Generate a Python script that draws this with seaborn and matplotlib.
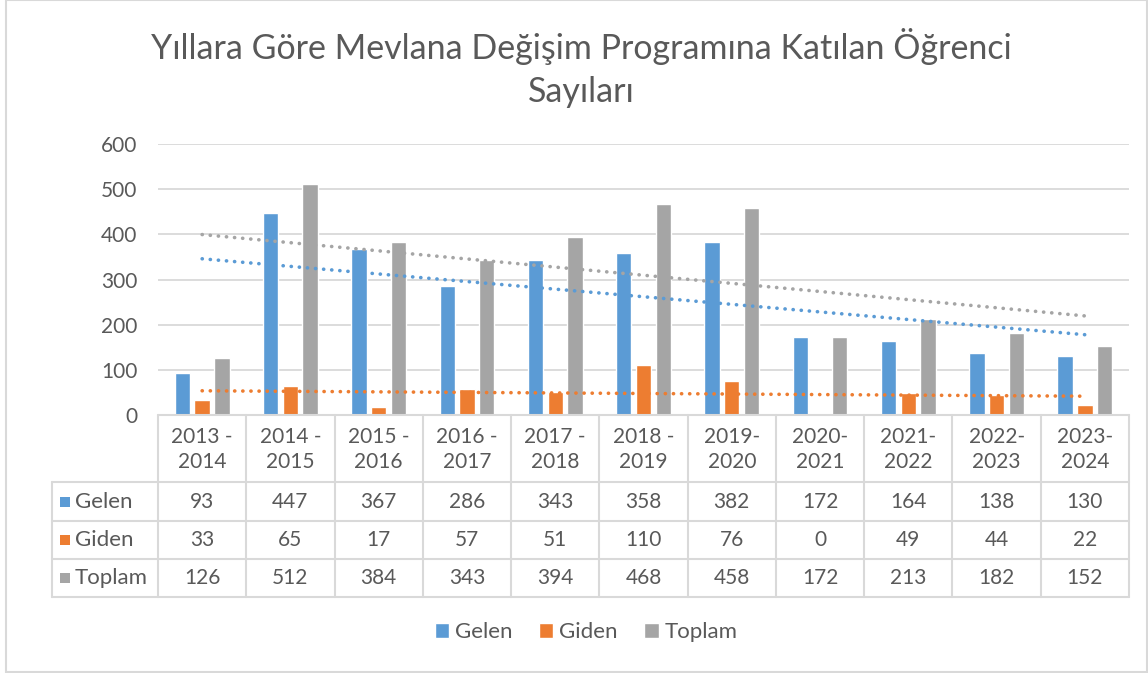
import numpy as np
import pandas as pd
import matplotlib
matplotlib.use("Agg")
import matplotlib.pyplot as plt
import matplotlib.transforms as mtrans
from matplotlib.patches import Rectangle
from matplotlib.lines import Line2D
import seaborn as sns

# ---------------- data ----------------
categories = ["2013 -\n2014", "2014 -\n2015", "2015 -\n2016", "2016 -\n2017",
              "2017 -\n2018", "2018 -\n2019", "2019-\n2020", "2020-\n2021",
              "2021-\n2022", "2022-\n2023", "2023-\n2024"]
gelen = [93, 447, 367, 286, 343, 358, 382, 172, 164, 138, 130]
giden = [33, 65, 17, 57, 51, 110, 76, 0, 49, 44, 22]
toplam = [126, 512, 384, 343, 394, 468, 458, 172, 213, 182, 152]
series_names = ["Gelen", "Giden", "Toplam"]
series_values = [gelen, giden, toplam]
colors = ["#5B9BD5", "#ED7D31", "#A5A5A5"]
title = "Yıllara Göre Mevlana Değişim Programına Katılan Öğrenci\nSayıları"
yticks = [0, 100, 200, 300, 400, 500, 600]

df = pd.DataFrame({
    "Yil": np.tile(categories, 3),
    "Seri": np.repeat(series_names, len(categories)),
    "Deger": np.concatenate(series_values),
})

# ---------------- figure ----------------
sns.set_theme(style="white")
plt.rcParams["font.family"] = ["Lato", "DejaVu Sans"]
TXT = "#595959"
GRID = "#D9D9D9"

W, H = 1148, 673
fig = plt.figure(figsize=(W / 100, H / 100), dpi=100)
fig.patch.set_facecolor("white")

def fx(x):
    return x / W

def fy(y):
    return 1 - y / H

ax_l, ax_r, ax_t, ax_b = 158, 1129, 144, 415
ax = fig.add_axes([fx(ax_l), fy(ax_b), fx(ax_r - ax_l), fy(ax_t) - fy(ax_b)])

sns.barplot(data=df, x="Yil", y="Deger", hue="Seri", palette=colors,
            order=categories, hue_order=series_names,
            width=0.67, gap=0.22, ax=ax, legend=True, saturation=1)

# trendlines (linear)
xs = np.arange(len(categories))
for vals, c in zip(series_values, colors):
    k, b = np.polyfit(xs + 1, vals, 1)
    xx = np.array([xs[0], xs[-1]])
    ax.plot(xx, k * (xx + 1) + b, color=c, lw=2.6,
            linestyle=(0, (0.05, 2.2)), dash_capstyle="round", zorder=4)

ax.set_xlim(-0.5, len(categories) - 0.5)
ax.set_ylim(0, 600)
ax.set_yticks(yticks)
ax.set_yticklabels([str(t) for t in yticks], color=TXT, fontsize=15)
ax.tick_params(axis="y", length=0, pad=15)
ax.set_xticks([])
ax.set_xlabel("")
ax.set_ylabel("")
for s in ax.spines.values():
    s.set_visible(False)
ax.grid(axis="y", color=GRID, lw=1.3)
ax.set_axisbelow(True)

# legend
sns.move_legend(ax, "center", bbox_to_anchor=((586 - ax_l) / (ax_r - ax_l), (ax_b - 632) / (ax_b - ax_t)),
                ncol=3, frameon=False, title=None, fontsize=16,
                handlelength=0.65, handleheight=0.65, handletextpad=0.25, columnspacing=1.2,
                labelcolor=TXT)

# ---------------- data table ----------------
tr = mtrans.blended_transform_factory(ax.transData, fig.transFigure)
ncat = len(categories)
row_y = [415, 482, 521, 559, 597]
lab_l = 52
line_kw = dict(color=GRID, lw=1.5, clip_on=False)

# horizontal lines
fig.add_artist(Line2D([-0.5, ncat - 0.5], [fy(row_y[0])] * 2, transform=tr, **line_kw))
for y in row_y[1:]:
    fig.add_artist(Line2D([fx(lab_l), fx(ax_r)], [fy(y)] * 2, transform=fig.transFigure, **line_kw))
# vertical lines
for i in range(ncat + 1):
    fig.add_artist(Line2D([i - 0.5, i - 0.5], [fy(row_y[0]), fy(row_y[-1])], transform=tr, **line_kw))
fig.add_artist(Line2D([fx(lab_l)] * 2, [fy(row_y[1]), fy(row_y[-1])], transform=fig.transFigure, **line_kw))

# header
for i, c in enumerate(categories):
    fig.text(i, fy((row_y[0] + row_y[1]) / 2 + 1), c, transform=tr, ha="center", va="center",
             fontsize=15, color=TXT, linespacing=1.3)

# rows
for r, (name, vals, c) in enumerate(zip(series_names, series_values, colors)):
    yc = fy((row_y[r + 1] + row_y[r + 2]) / 2)
    fig.add_artist(Rectangle((fx(60), yc - 5 / H), 10 / W, 10 / H, transform=fig.transFigure,
                             facecolor=c, edgecolor="none"))
    fig.text(fx(75), yc, name, ha="left", va="center", fontsize=16, color=TXT)
    for i, v in enumerate(vals):
        fig.text(i, yc, str(v), transform=tr, ha="center", va="center", fontsize=15, color=TXT)

# title
fig.text(fx(581), fy(68), title, ha="center", va="center", fontsize=24.5, color=TXT,
         linespacing=1.4)

# chart border
fig.add_artist(Rectangle((fx(6), fy(672)), fx(1141), fy(0) - fy(672), transform=fig.transFigure,
                         facecolor="none", edgecolor=GRID, lw=1.5))

fig.savefig("out.png", dpi=100)
